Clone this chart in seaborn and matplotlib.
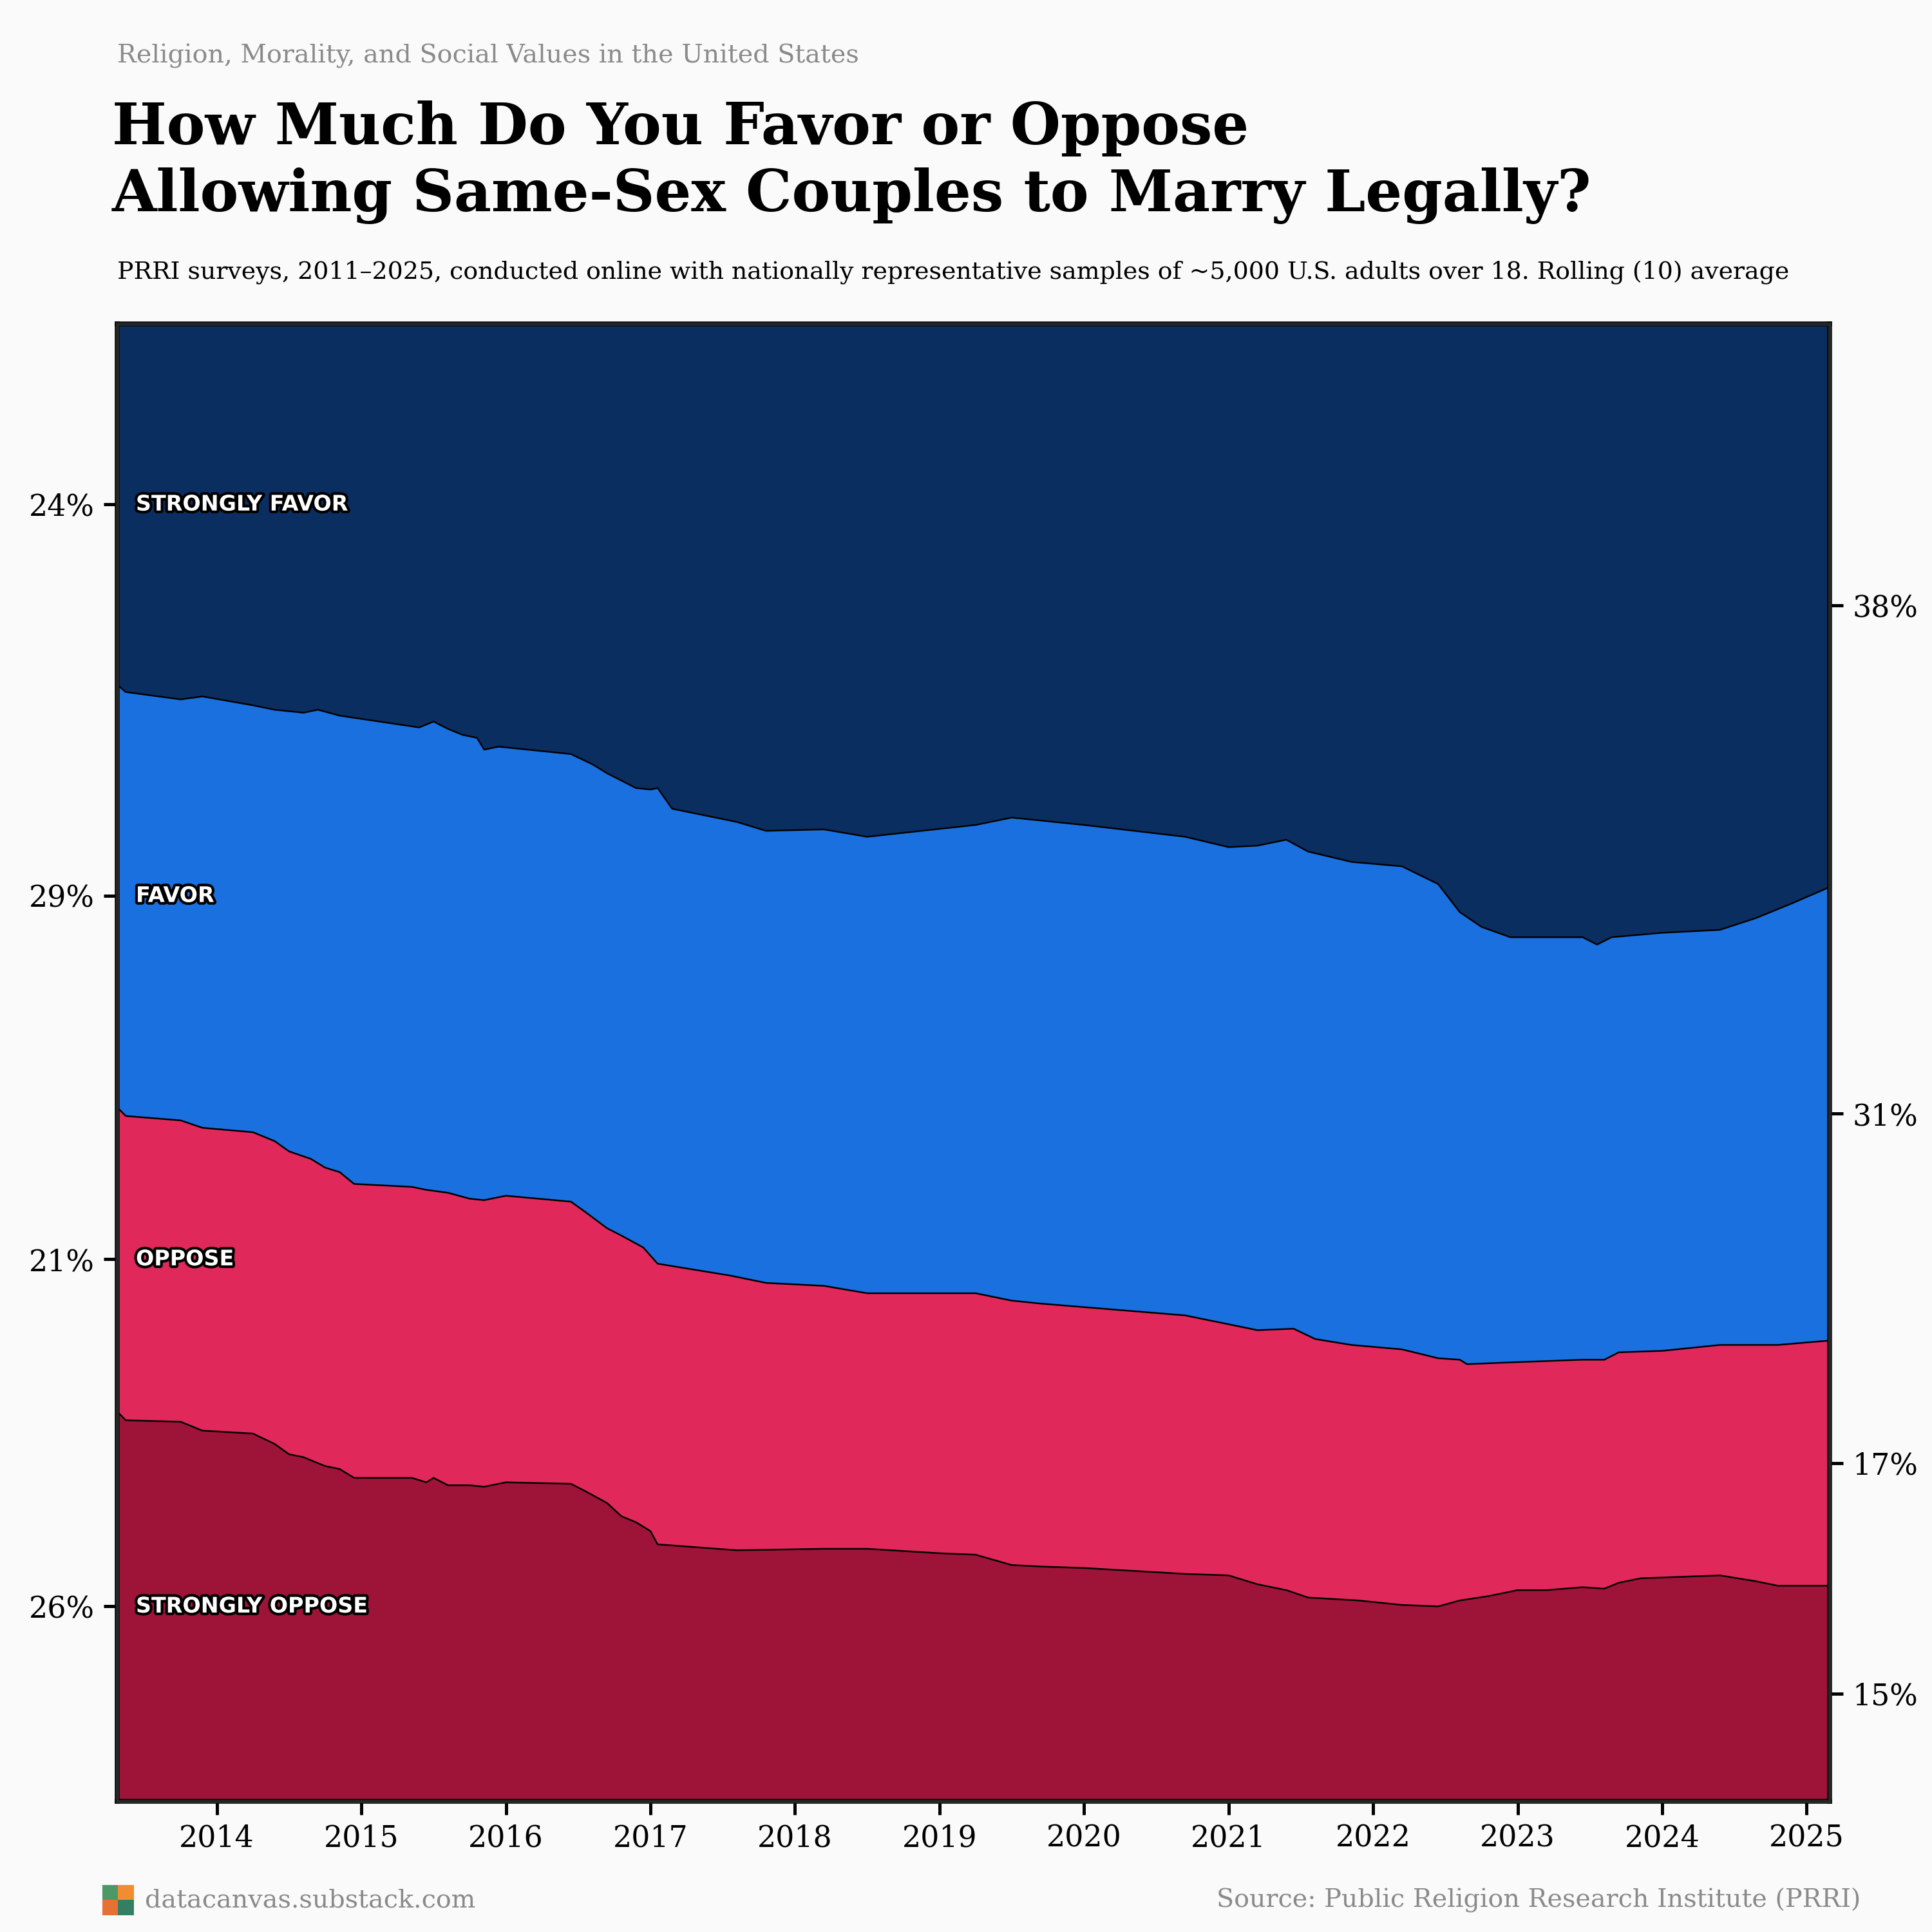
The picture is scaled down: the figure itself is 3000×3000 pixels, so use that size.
import numpy as np
import pandas as pd
import seaborn as sns
import matplotlib.pyplot as plt
import matplotlib.patheffects as pe

# Cumulative share (%) at the top of each layer (rolling average)
so_top = {
    2013.31: 26.4, 2013.37: 25.8, 2013.75: 25.7, 2013.9: 25.1, 2014.25: 24.9, 2014.4: 24.2,
    2014.5: 23.5, 2014.6: 23.3, 2014.75: 22.7, 2014.85: 22.5, 2014.95: 21.9, 2015.35: 21.9,
    2015.45: 21.6, 2015.5: 21.9, 2015.6: 21.4, 2015.75: 21.4, 2015.85: 21.3, 2016.0: 21.6,
    2016.45: 21.5, 2016.55: 21.0, 2016.7: 20.2, 2016.8: 19.3, 2016.9: 18.9, 2017.0: 18.3,
    2017.05: 17.4, 2017.6: 17.0, 2018.2: 17.1, 2018.5: 17.1, 2019.0: 16.8, 2019.25: 16.7,
    2019.5: 16.0, 2019.7: 15.9, 2020.0: 15.8, 2020.7: 15.4, 2021.0: 15.3, 2021.2: 14.7,
    2021.4: 14.3, 2021.55: 13.8, 2021.9: 13.6, 2022.2: 13.3, 2022.45: 13.2, 2022.6: 13.6,
    2022.8: 13.9, 2023.0: 14.3, 2023.2: 14.3, 2023.45: 14.5, 2023.6: 14.4, 2023.7: 14.8,
    2023.85: 15.1, 2024.4: 15.3, 2024.65: 14.9, 2024.8: 14.6, 2025.16: 14.6,
}
oppose_top = {
    2013.31: 47.0, 2013.37: 46.4, 2013.75: 46.1, 2013.9: 45.6, 2014.25: 45.3, 2014.4: 44.7,
    2014.5: 44.0, 2014.65: 43.5, 2014.75: 42.9, 2014.85: 42.6, 2014.95: 41.8, 2015.35: 41.6,
    2015.45: 41.4, 2015.6: 41.2, 2015.75: 40.8, 2015.85: 40.7, 2016.0: 41.0, 2016.45: 40.6,
    2016.55: 39.9, 2016.7: 38.8, 2016.8: 38.3, 2016.95: 37.5, 2017.05: 36.4, 2017.55: 35.6,
    2017.8: 35.1, 2018.2: 34.9, 2018.5: 34.4, 2019.25: 34.4, 2019.5: 33.9, 2019.7: 33.7,
    2020.7: 32.9, 2021.0: 32.3, 2021.2: 31.9, 2021.45: 32.0, 2021.6: 31.3, 2021.85: 30.9,
    2022.2: 30.6, 2022.45: 30.0, 2022.6: 29.9, 2022.65: 29.6, 2022.9: 29.7, 2023.45: 29.9,
    2023.6: 29.9, 2023.7: 30.4, 2024.0: 30.5, 2024.4: 30.9, 2024.8: 30.9, 2025.16: 31.2,
}
favor_top = {
    2013.31: 75.6, 2013.37: 75.1, 2013.75: 74.6, 2013.9: 74.8, 2014.25: 74.2, 2014.4: 73.9,
    2014.6: 73.7, 2014.7: 73.9, 2014.85: 73.5, 2015.4: 72.7, 2015.5: 73.1, 2015.6: 72.6,
    2015.7: 72.2, 2015.8: 72.0, 2015.85: 71.2, 2015.95: 71.4, 2016.45: 70.9, 2016.6: 70.2,
    2016.7: 69.6, 2016.8: 69.1, 2016.9: 68.6, 2017.0: 68.5, 2017.05: 68.6, 2017.15: 67.2,
    2017.6: 66.3, 2017.8: 65.7, 2018.2: 65.8, 2018.5: 65.3, 2019.25: 66.1, 2019.5: 66.6,
    2020.0: 66.1, 2020.7: 65.3, 2021.0: 64.6, 2021.2: 64.7, 2021.4: 65.1, 2021.55: 64.3,
    2021.85: 63.6, 2022.2: 63.3, 2022.45: 62.1, 2022.6: 60.2, 2022.75: 59.2, 2022.95: 58.5,
    2023.45: 58.5, 2023.55: 58.0, 2023.65: 58.5, 2024.0: 58.8, 2024.4: 59.0, 2024.65: 59.8,
    2024.9: 60.8, 2025.16: 61.9,
}

x = np.array(sorted(set(so_top) | set(oppose_top) | set(favor_top)))
def on_grid(d):
    k = np.array(sorted(d))
    return np.interp(x, k, [d[i] for i in k])

b1, b2, b3 = on_grid(so_top), on_grid(oppose_top), on_grid(favor_top)
df = pd.DataFrame({"year": x, "so": b1, "op": b2, "fa": b3, "sf": np.full_like(x, 100.0)})

colors = {"sf": "#0b2e61", "fa": "#1a70de", "op": "#e0295a", "so": "#9e1439"}
bg = "#fafafa"

sns.set_theme(style="white")
plt.rcParams["font.family"] = ["DejaVu Serif"]
fig = plt.figure(figsize=(10, 10), dpi=300, facecolor=bg)
ax = fig.add_axes([0.0606, 0.0676, 0.8865, 0.7646])
ax.set_facecolor(bg)

layers = [("so", np.zeros_like(x)), ("op", df["so"]), ("fa", df["op"]), ("sf", df["fa"])]
for key, low in layers:
    ax.fill_between(df["year"], low, df[key], color=colors[key], lw=0)
for key in ["so", "op", "fa"]:
    sns.lineplot(data=df, x="year", y=key, ax=ax, color="black", lw=0.6)

ax.set_xlim(x[0], x[-1])
ax.set_ylim(0, 100)
ax.set_xlabel("")
ax.set_ylabel("")
ax.set_xticks(range(2014, 2026))
ax.tick_params(axis="x", labelsize=11, length=5, width=1.2, color="black", bottom=True, labelcolor="black")
for s in ax.spines.values():
    s.set_color("black")
    s.set_linewidth(1.8)

# left ticks: start share of each layer; right ticks: end share
start = [df.so.iloc[0], df.op.iloc[0], df.fa.iloc[0], 100]
end = [df.so.iloc[-1], df.op.iloc[-1], df.fa.iloc[-1], 100]
def mids(v):
    lo = [0] + v[:-1]
    return [(a + b) / 2 for a, b in zip(lo, v)], [b - a for a, b in zip(lo, v)]
lm, lv = mids(start)
rm, rv = mids(end)
ax.set_yticks(lm)
ax.set_yticklabels([f"{round(v)}%" for v in lv], fontsize=11, color="black")
ax.tick_params(axis="y", left=True, length=5, width=1.2, color="black")
ax2 = ax.twinx()
ax2.set_ylim(0, 100)
ax2.set_yticks(rm)
ax2.set_yticklabels([f"{round(v)}%" for v in rv], fontsize=11, color="black")
ax2.tick_params(axis="y", right=True, length=5, width=1.2, color="black")
ax2.grid(False)
ax.grid(False)

names = ["STRONGLY OPPOSE", "OPPOSE", "FAVOR", "STRONGLY FAVOR"]
for n, y in zip(names, lm):
    ax.text(2013.44, y, n, color="white", fontsize=8, fontweight="bold", va="center",
            family=["DejaVu Sans"], path_effects=[pe.withStroke(linewidth=2, foreground="black")])

fig.text(0.0606, 0.971, "Religion, Morality, and Social Values in the United States",
         fontsize=9.5, color="#8a8a8a", va="center")
fig.text(0.058, 0.916, "How Much Do You Favor or Oppose\nAllowing Same-Sex Couples to Marry Legally?",
         fontsize=21.5, fontweight="bold", va="center", linespacing=1.25, color="black")
fig.text(0.0606, 0.859, "PRRI surveys, 2011–2025, conducted online with nationally representative "
         "samples of ~5,000 U.S. adults over 18. Rolling (10) average", fontsize=9.1, va="center",
         color="black")
fig.text(0.075, 0.0165, "datacanvas.substack.com", fontsize=9.5, color="#8a8a8a", va="center")
fig.text(0.963, 0.0165, "Source: Public Religion Research Institute (PRRI)", fontsize=9.5,
         color="#8a8a8a", va="center", ha="right")
logo = fig.add_axes([0.053, 0.0085, 0.016, 0.016])
logo.imshow(np.array([[[0.3, 0.6, 0.4], [0.95, 0.55, 0.2]], [[0.9, 0.45, 0.2], [0.2, 0.5, 0.4]]]))
logo.axis("off")

fig.savefig("out.png", dpi=300, facecolor=bg)
